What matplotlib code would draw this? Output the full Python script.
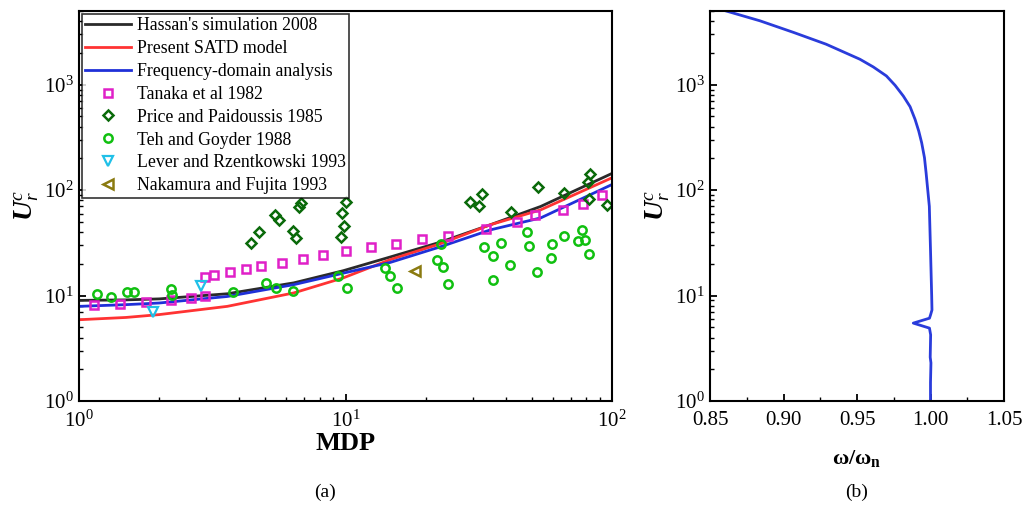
import numpy as np
import matplotlib
matplotlib.use('Agg')
import matplotlib.pyplot as plt
from matplotlib.ticker import LogLocator, LogFormatterMathtext, MultipleLocator, NullFormatter

plt.rcParams['font.family'] = ['Liberation Serif', 'DejaVu Serif']
plt.rcParams['mathtext.fontset'] = 'custom'
plt.rcParams['mathtext.rm'] = 'Liberation Serif'
plt.rcParams['mathtext.it'] = 'Liberation Serif:italic'
plt.rcParams['mathtext.bf'] = 'Liberation Serif:bold:italic'
plt.rcParams['mathtext.sf'] = 'Liberation Serif:bold'

# ---- panel (a): critical reduced velocity vs MDP ----
mdp_line = [1.0, 1.5, 2.0, 3.6, 6.4, 9.8, 14.7, 22.6, 35, 54, 100]
hassan = [9.0, 9.1, 9.3, 10.4, 13.2, 17.2, 23.2, 32, 47, 70, 144]
satd = [5.9, 6.2, 6.6, 7.9, 10.6, 14.7, 21.9, 30.9, 47, 65, 131]
freq = [7.9, 8.2, 8.5, 9.8, 12.7, 16.3, 20.6, 28.9, 42, 54.5, 113]

tanaka_x = [1.14, 1.42, 1.78, 2.21, 2.63, 2.97, 2.97, 3.21, 3.69, 4.22, 4.82, 5.76, 6.95,
            8.21, 10.0, 12.5, 15.5, 19.3, 24.3, 33.7, 43.9, 51.4, 65.7, 78.0, 92.0]
tanaka_y = [8.05, 8.3, 8.6, 8.98, 9.4, 9.8, 15.1, 15.5, 16.6, 17.9, 19.2, 20.4, 22.2,
            24.4, 26.3, 28.7, 30.9, 34.4, 37.0, 43.2, 49.5, 57.7, 65.0, 74.6, 90.8]

price_x = [4.42, 4.74, 5.44, 5.65, 6.37, 6.52, 6.69, 6.79, 9.62, 9.87, 9.67, 10.0,
           29.2, 31.8, 32.4, 41.8, 52.9, 66.2, 82.2, 82.7, 81.5, 96.0]
price_y = [31.6, 39.8, 57.7, 51.8, 41.3, 35.2, 69.4, 75.7, 36.0, 45.4, 60.8, 76.7,
           77.4, 70.3, 92.9, 61.7, 106.6, 94.2, 83.2, 142.8, 120.0, 71.9]

teh_x = [1.165, 1.315, 1.52, 1.61, 2.21, 2.23, 3.79, 5.02, 5.49, 6.37, 9.35, 10.1,
         14.1, 14.7, 15.6, 22.0, 23.3, 22.8, 24.3, 33.2, 35.9, 38.3, 35.7, 41.4,
         48.1, 48.8, 52.2, 59.4, 58.9, 66.2, 74.4, 76.9, 79.2, 82.2]
teh_y = [10.3, 9.6, 10.9, 10.9, 11.5, 10.2, 10.9, 13.1, 11.8, 11.1, 15.2, 11.8,
         18.3, 15.4, 11.8, 21.9, 18.7, 30.9, 12.9, 28.9, 23.5, 31.6, 13.9, 19.3,
         40.2, 29.5, 16.8, 31.1, 22.7, 37.0, 33.2, 42.2, 33.9, 25.0]

lever_x = [1.89, 2.88]
lever_y = [6.97, 12.4]

nakamura_x = [18.2]
nakamura_y = [17.2]

# ---- panel (b): U_r^c vs frequency ratio ----
omega_ratio = [0.861, 0.884, 0.907, 0.929, 0.952, 0.9611, 0.970, 0.9759, 0.9815, 0.9861,
               0.9895, 0.9920, 0.994, 0.9959, 0.997, 0.9992, 1.0000, 1.0008, 1.0010,
               1.0001, 0.9993, 0.9883, 0.9993, 1.0001, 0.9998, 1.0003, 1.0000, 1.0000]
ur_b = [5000, 4035, 3126, 2421, 1743, 1473, 1211, 987, 781, 619,
        469, 363, 281, 203, 146, 70.3, 27.2, 10, 7.3,
        6.6, 6.1, 5.48, 4.91, 4.24, 2.6, 2.3, 1.5, 1.0]

fig = plt.figure(figsize=(10.28, 5.05), dpi=100)
ax1 = fig.add_axes([79 / 1028, 104 / 505, 533 / 1028, 390 / 505])
ax2 = fig.add_axes([710 / 1028, 104 / 505, 294 / 1028, 390 / 505])

ax1.plot(mdp_line, hassan, color='#2a2a2a', lw=2.0, label="Hassan's simulation 2008")
ax1.plot(mdp_line, satd, color='#ff3333', lw=2.0, label='Present SATD model')
ax1.plot(mdp_line, freq, color='#1f30d8', lw=2.0, label='Frequency-domain analysis')
ax1.plot(tanaka_x, tanaka_y, 's', ms=5.5, mfc='none', mec='#e020c8', mew=1.8,
         label='Tanaka et al 1982')
ax1.plot(price_x, price_y, 'D', ms=5.2, mfc='none', mec='#0a6a0a', mew=1.8,
         label='Price and Paidoussis 1985')
ax1.plot(teh_x, teh_y, 'o', ms=6, mfc='none', mec='#10c010', mew=1.8,
         label='Teh and Goyder 1988')
ax1.plot(lever_x, lever_y, 'v', ms=7, mfc='none', mec='#20c0e8', mew=1.6,
         label='Lever and Rzentkowski 1993')
ax1.plot(nakamura_x, nakamura_y, '<', ms=7, mfc='none', mec='#8a7a10', mew=1.8,
         label='Nakamura and Fujita 1993')

ax2.plot(omega_ratio, ur_b, color='#2a3cdb', lw=2.0)

for ax in (ax1, ax2):
    ax.set_yscale('log')
    ax.set_ylim(1, 5000)
    ax.yaxis.set_major_locator(LogLocator(base=10, numticks=10))
    ax.yaxis.set_major_formatter(LogFormatterMathtext())
    ax.yaxis.set_minor_locator(LogLocator(base=10, subs=np.arange(2, 10), numticks=20))
    ax.yaxis.set_minor_formatter(NullFormatter())
    for s in ax.spines.values():
        s.set_linewidth(1.5)
    ax.tick_params(which='major', direction='in', length=5, width=1.3, labelsize=15,
                   top=False, right=False, pad=4)
    ax.tick_params(axis='x', which='major', pad=7)
    ax.tick_params(which='minor', direction='in', length=3, width=1.0,
                   top=False, right=False)
    ax.set_ylabel(r'$\mathbf{U}_r^c$', fontsize=20, labelpad=2)

ax1.set_xscale('log')
ax1.set_xlim(1, 100)
ax1.xaxis.set_major_formatter(LogFormatterMathtext())
ax1.xaxis.set_minor_formatter(NullFormatter())
ax1.set_xlabel('MDP', fontsize=19, fontweight='bold', labelpad=0)

ax2.set_xlim(0.85, 1.05)
ax2.xaxis.set_major_locator(MultipleLocator(0.05))
ax2.xaxis.set_minor_locator(MultipleLocator(0.025))
ax2.xaxis.set_major_formatter(plt.FormatStrFormatter('%.2f'))
ax2.set_xlabel(r'ω/ω$_{\mathsf{n}}$', fontsize=16, fontweight='bold', labelpad=13)

leg = ax1.legend(loc='upper left', fontsize=12.8, frameon=True, fancybox=False,
                 edgecolor='black', borderaxespad=0.15, labelspacing=0.33,
                 handlelength=2.6, handletextpad=0.3, borderpad=0.2, numpoints=1)
leg.get_frame().set_linewidth(1.2)

fig.text(325 / 1028, 1 - 492 / 505, '(a)', ha='center', va='center', fontsize=14)
fig.text(857 / 1028, 1 - 492 / 505, '(b)', ha='center', va='center', fontsize=14)

fig.savefig('out.png', dpi=100)
